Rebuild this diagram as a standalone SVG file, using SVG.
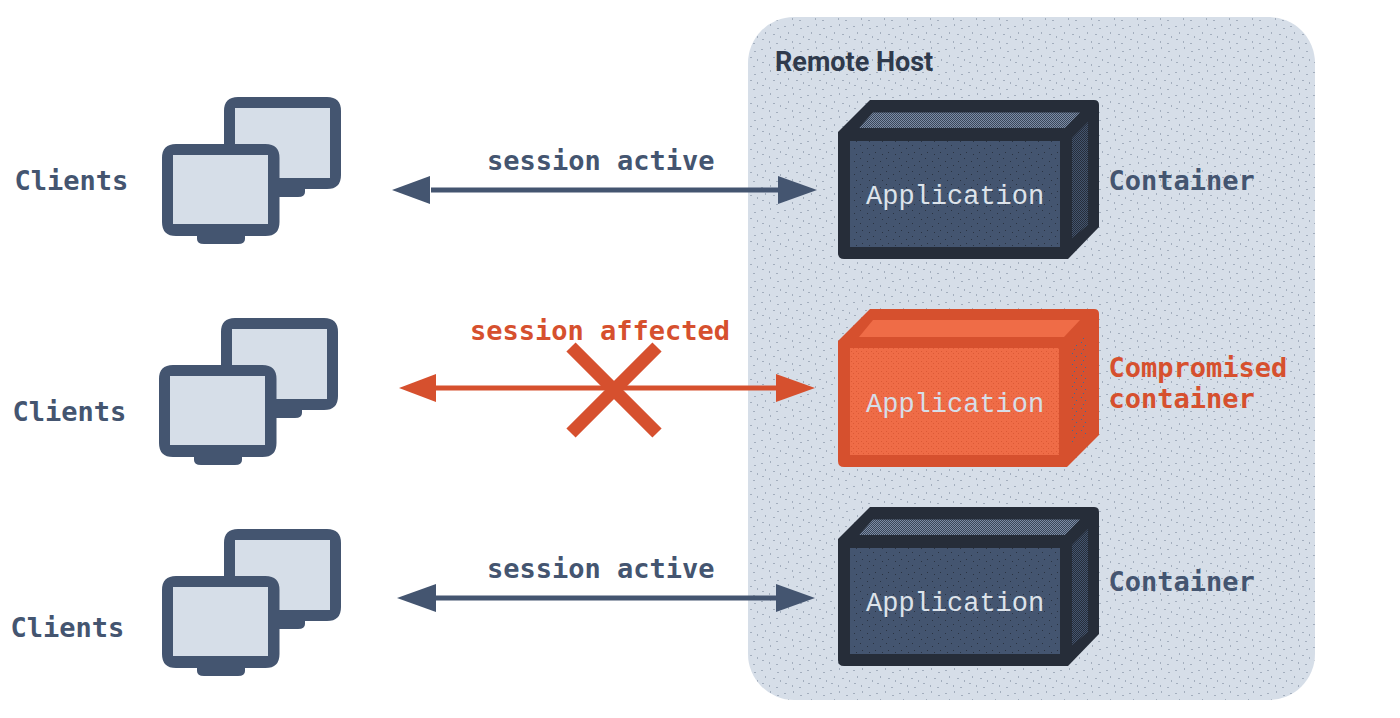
<svg xmlns="http://www.w3.org/2000/svg" width="1400" height="718" viewBox="0 0 1400 718">
<style>
text{font-family:"DejaVu Sans Mono","Liberation Mono",monospace;font-size:27px}
.b{font-weight:700}
.dark{fill:#445570}
.red{fill:#d6502e}
.app{font-family:"Liberation Mono","DejaVu Sans Mono",monospace;font-weight:400;fill:#dde3ea}
.host{font-family:Roboto,"Liberation Sans",sans-serif;font-size:27px;font-weight:700;fill:#2f3a4c}
.mon{fill:#445570}
.scr{fill:#d6dee8}
.shell{fill:#262d39}
.shellr{fill:#d6502e}
.line{stroke-width:5;fill:none}
</style>
<defs>
<pattern id="stip" width="23" height="23" patternUnits="userSpaceOnUse">
<rect width="23" height="23" fill="#d6dee8"/>
<g fill="#a3aebd"><rect x="2" y="3" width="2" height="1"/><rect x="11" y="1" width="1" height="2"/><rect x="18" y="5" width="2" height="1"/><rect x="6" y="9" width="1" height="2"/><rect x="14" y="11" width="2" height="1"/><rect x="21" y="13" width="1" height="2"/><rect x="3" y="16" width="2" height="1"/><rect x="10" y="18" width="1" height="2"/><rect x="17" y="20" width="2" height="1"/></g>
</pattern>
<pattern id="frontD" width="13" height="13" patternUnits="userSpaceOnUse">
<rect width="13" height="13" fill="#445570"/>
<g fill="#2a3342"><rect x="2" y="2" width="1" height="1"/><rect x="9" y="5" width="1" height="1"/><rect x="4" y="9" width="1" height="1"/><rect x="11" y="11" width="1" height="1"/></g>
</pattern>
<pattern id="topD" width="2" height="2" patternUnits="userSpaceOnUse">
<rect width="2" height="2" fill="#7c8ca6"/>
<rect width="1" height="1" fill="#3a4658"/><rect x="1" y="1" width="1" height="1" fill="#3a4658"/>
</pattern>
<pattern id="sideD" width="2" height="2" patternUnits="userSpaceOnUse">
<rect width="2" height="2" fill="#445570"/>
<rect width="1" height="1" fill="#262d39"/><rect x="1" y="1" width="1" height="1" fill="#262d39"/>
</pattern>
<pattern id="frontR" width="5" height="5" patternUnits="userSpaceOnUse">
<rect width="5" height="5" fill="#ef6c47"/>
<g fill="#dc5a36"><rect x="1" y="1" width="1" height="1"/><rect x="3" y="3" width="1" height="1"/></g>
</pattern>
<pattern id="sideR" width="9" height="11" patternUnits="userSpaceOnUse">
<rect width="9" height="11" fill="#d6502e"/>
<g fill="#3f6a96"><rect x="1" y="1" width="1" height="1"/><rect x="5" y="4" width="1" height="1"/><rect x="3" y="8" width="1" height="1"/></g>
</pattern>
<g id="monitor">
<path class="mon" d="M238 97H327Q341 97 341 111V175Q341 189 327 189H305V192Q305 197 298 197H279.500V222Q279.500 236 265.500 236H245V239Q245 244 238 244H204Q197 244 197 239V236H176Q162 236 162 222V158Q162 144 176 144H224V111Q224 97 238 97Z"/>
<path class="scr" d="M235 108H330V178H279.500V158Q279.500 144 265.500 144H235Z"/>
<rect class="scr" x="173" y="155" width="95" height="69"/>
</g>
<g id="boxDark">
<path class="shell" d="M838 132L870 100H1094Q1099 100 1099 105V227L1068 259H844Q838 259 838 253Z"/>
<path d="M859 128L873 112.500H1080L1065 128Z" fill="url(#topD)"/>
<path d="M1072 138L1088 122V225L1072 238Z" fill="url(#sideD)"/>
<rect x="850" y="141" width="210" height="106" fill="url(#frontD)"/>
</g>
</defs>

<rect id="host-panel" x="748" y="17" width="567" height="683" rx="46" fill="url(#stip)"/>
<text class="host" x="775" y="71">Remote Host</text>

<g id="connectors">
<line class="line" x1="431" y1="190" x2="778" y2="190" stroke="#445570"/>
<path d="M392 190L430 176V204Z" fill="#445570"/>
<path d="M817 190L778 176V204Z" fill="#445570"/>
<line class="line" x1="436" y1="388" x2="776" y2="388" stroke="#d6502e"/>
<path d="M399 388L436 374V402Z" fill="#d6502e"/>
<path d="M815 388L776 374V402Z" fill="#d6502e"/>
<line x1="571" y1="347" x2="657" y2="433" stroke="#d6502e" stroke-width="13"/>
<line x1="657" y1="347" x2="571" y2="433" stroke="#d6502e" stroke-width="13"/>
<line class="line" x1="436" y1="598" x2="776" y2="598" stroke="#445570"/>
<path d="M397 598L436 584V612Z" fill="#445570"/>
<path d="M815 598L776 584V612Z" fill="#445570"/>
<text class="b dark" x="487" y="170">session active</text>
<text class="b red" x="470" y="340">session affected</text>
<text class="b dark" x="487" y="578">session active</text>
</g>

<g id="clients-1"><use href="#monitor"/><text class="b dark" x="14.500" y="190">Clients</text></g>
<g id="clients-2"><use href="#monitor" x="-3" y="221"/><text class="b dark" x="12.500" y="421">Clients</text></g>
<g id="clients-3"><use href="#monitor" y="432"/><text class="b dark" x="10.500" y="637">Clients</text></g>

<g id="container-1"><use href="#boxDark"/><text class="app" x="866" y="204">Application</text><text class="b dark" x="1108.500" y="190">Container</text></g>

<g id="container-2">
<path class="shellr" d="M838 341L870 309H1094Q1099 309 1099 314V435L1067 467H844Q838 467 838 461Z"/>
<path d="M859 337L873 320H1080L1064 337Z" fill="#ef6c47"/>
<path d="M1072 345L1087 335V435L1072 445Z" fill="url(#sideR)"/>
<rect x="850" y="348" width="209" height="107" fill="url(#frontR)"/>
<text class="app" x="866" y="412" style="fill:#d6dee8">Application</text>
<text class="b red" x="1108.500" y="377">Compromised</text>
<text class="b red" x="1108.500" y="408">container</text>
</g>

<g id="container-3"><use href="#boxDark" y="407"/><text class="app" x="866" y="611">Application</text><text class="b dark" x="1108.500" y="591">Container</text></g>
</svg>
